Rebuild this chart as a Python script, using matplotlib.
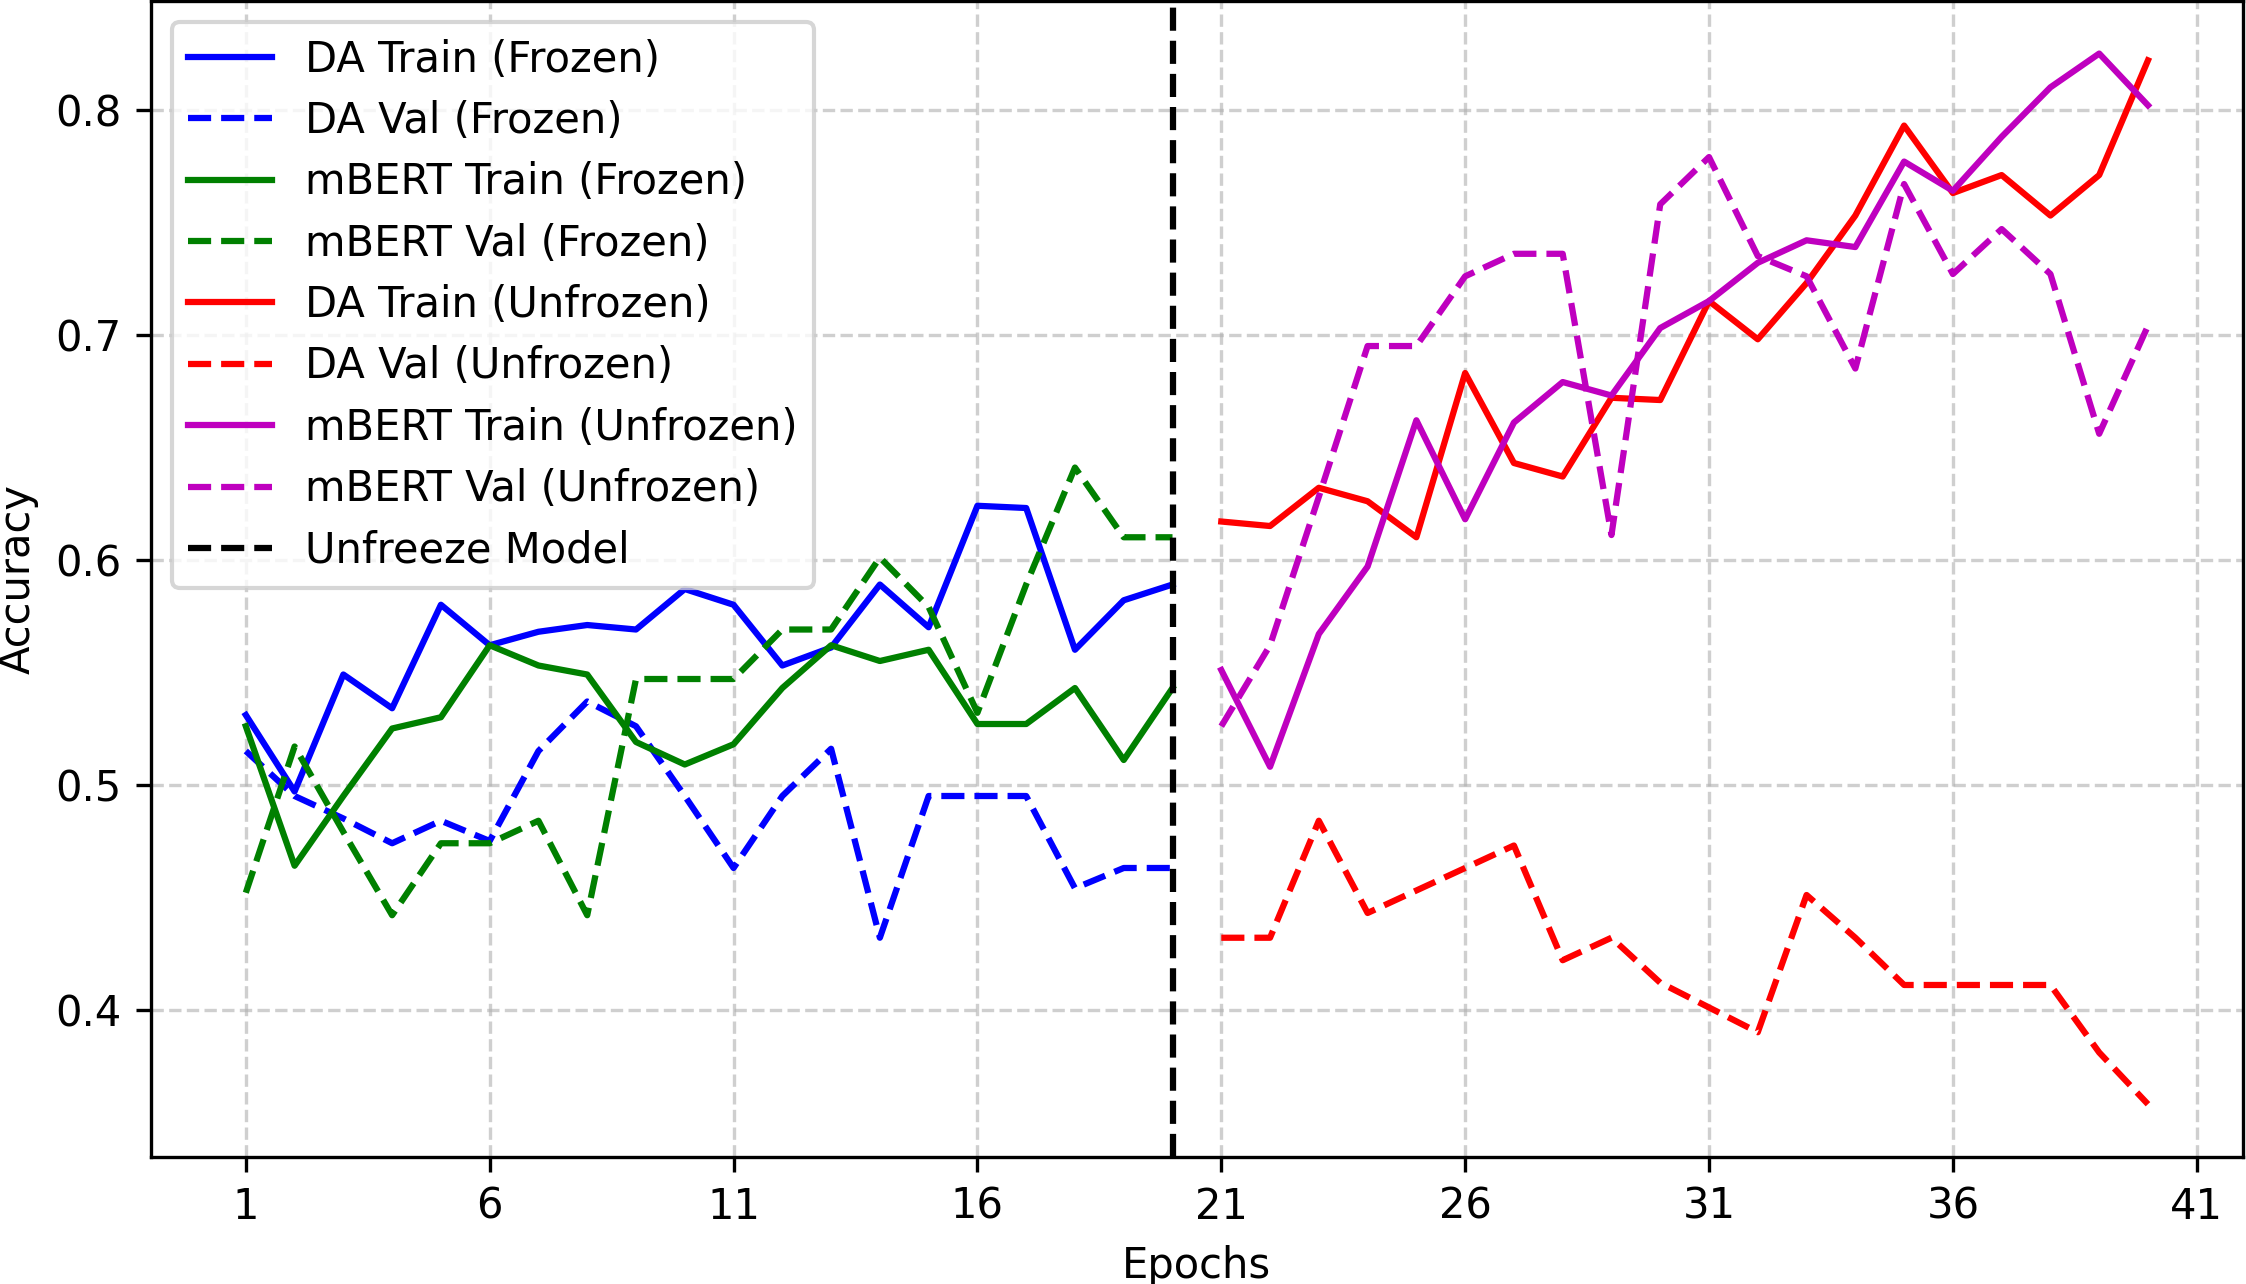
import numpy as np
import matplotlib
matplotlib.use("Agg")
import matplotlib.pyplot as plt

# epochs: frozen phase 1-20, unfrozen phase 21-40
epochs_frozen = list(range(1, 21))
epochs_unfrozen = list(range(21, 41))

# frozen phase
da_train_frozen = [0.531, 0.497, 0.549, 0.534, 0.580, 0.562, 0.568, 0.571, 0.569, 0.587,
                   0.580, 0.553, 0.561, 0.589, 0.570, 0.624, 0.623, 0.560, 0.582, 0.589]
da_val_frozen = [0.515, 0.495, 0.485, 0.474, 0.484, 0.475, 0.515, 0.537, 0.526, 0.495,
                 0.463, 0.495, 0.516, 0.432, 0.495, 0.495, 0.495, 0.454, 0.463, 0.463]
mbert_train_frozen = [0.526, 0.464, 0.495, 0.525, 0.530, 0.562, 0.553, 0.549, 0.519, 0.509,
                      0.518, 0.543, 0.562, 0.555, 0.560, 0.527, 0.527, 0.543, 0.511, 0.543]
mbert_val_frozen = [0.452, 0.517, 0.479, 0.442, 0.474, 0.474, 0.484, 0.442, 0.547, 0.547,
                    0.547, 0.569, 0.569, 0.601, 0.579, 0.532, 0.589, 0.641, 0.610, 0.610]

# unfrozen phase
da_train_unfrozen = [0.617, 0.615, 0.632, 0.626, 0.610, 0.683, 0.643, 0.637, 0.672, 0.671,
                     0.715, 0.698, 0.723, 0.753, 0.793, 0.763, 0.771, 0.753, 0.771, 0.822]
da_val_unfrozen = [0.432, 0.432, 0.484, 0.443, 0.453, 0.463, 0.473, 0.422, 0.432, 0.412,
                   0.401, 0.390, 0.451, 0.432, 0.411, 0.411, 0.411, 0.411, 0.381, 0.358]
mbert_train_unfrozen = [0.551, 0.508, 0.567, 0.597, 0.662, 0.618, 0.661, 0.679, 0.673, 0.703,
                        0.715, 0.732, 0.742, 0.739, 0.777, 0.764, 0.788, 0.810, 0.825, 0.802]
mbert_val_unfrozen = [0.526, 0.562, 0.628, 0.695, 0.695, 0.726, 0.736, 0.736, 0.611, 0.758,
                      0.779, 0.735, 0.726, 0.685, 0.767, 0.727, 0.747, 0.727, 0.656, 0.704]

fig = plt.figure(figsize=(2246 / 300, 1284 / 300), dpi=300)
ax = fig.add_axes([0.0671, 0.0991, 0.9316, 0.9001])

ax.plot(epochs_frozen, da_train_frozen, 'b-', label='DA Train (Frozen)')
ax.plot(epochs_frozen, da_val_frozen, 'b--', label='DA Val (Frozen)')
ax.plot(epochs_frozen, mbert_train_frozen, 'g-', label='mBERT Train (Frozen)')
ax.plot(epochs_frozen, mbert_val_frozen, 'g--', label='mBERT Val (Frozen)')
ax.plot(epochs_unfrozen, da_train_unfrozen, 'r-', label='DA Train (Unfrozen)')
ax.plot(epochs_unfrozen, da_val_unfrozen, 'r--', label='DA Val (Unfrozen)')
ax.plot(epochs_unfrozen, mbert_train_unfrozen, 'm-', label='mBERT Train (Unfrozen)')
ax.plot(epochs_unfrozen, mbert_val_unfrozen, 'm--', label='mBERT Val (Unfrozen)')
ax.axvline(x=20, color='k', linestyle='--', label='Unfreeze Model')

ax.set_xticks(range(1, 42, 5))
ax.set_xlabel('Epochs')
ax.set_ylabel('Accuracy')
ax.grid(True, linestyle='--', alpha=0.6)
ax.legend(loc='upper left', labelspacing=0.465)

fig.savefig('out.png', dpi=300)
